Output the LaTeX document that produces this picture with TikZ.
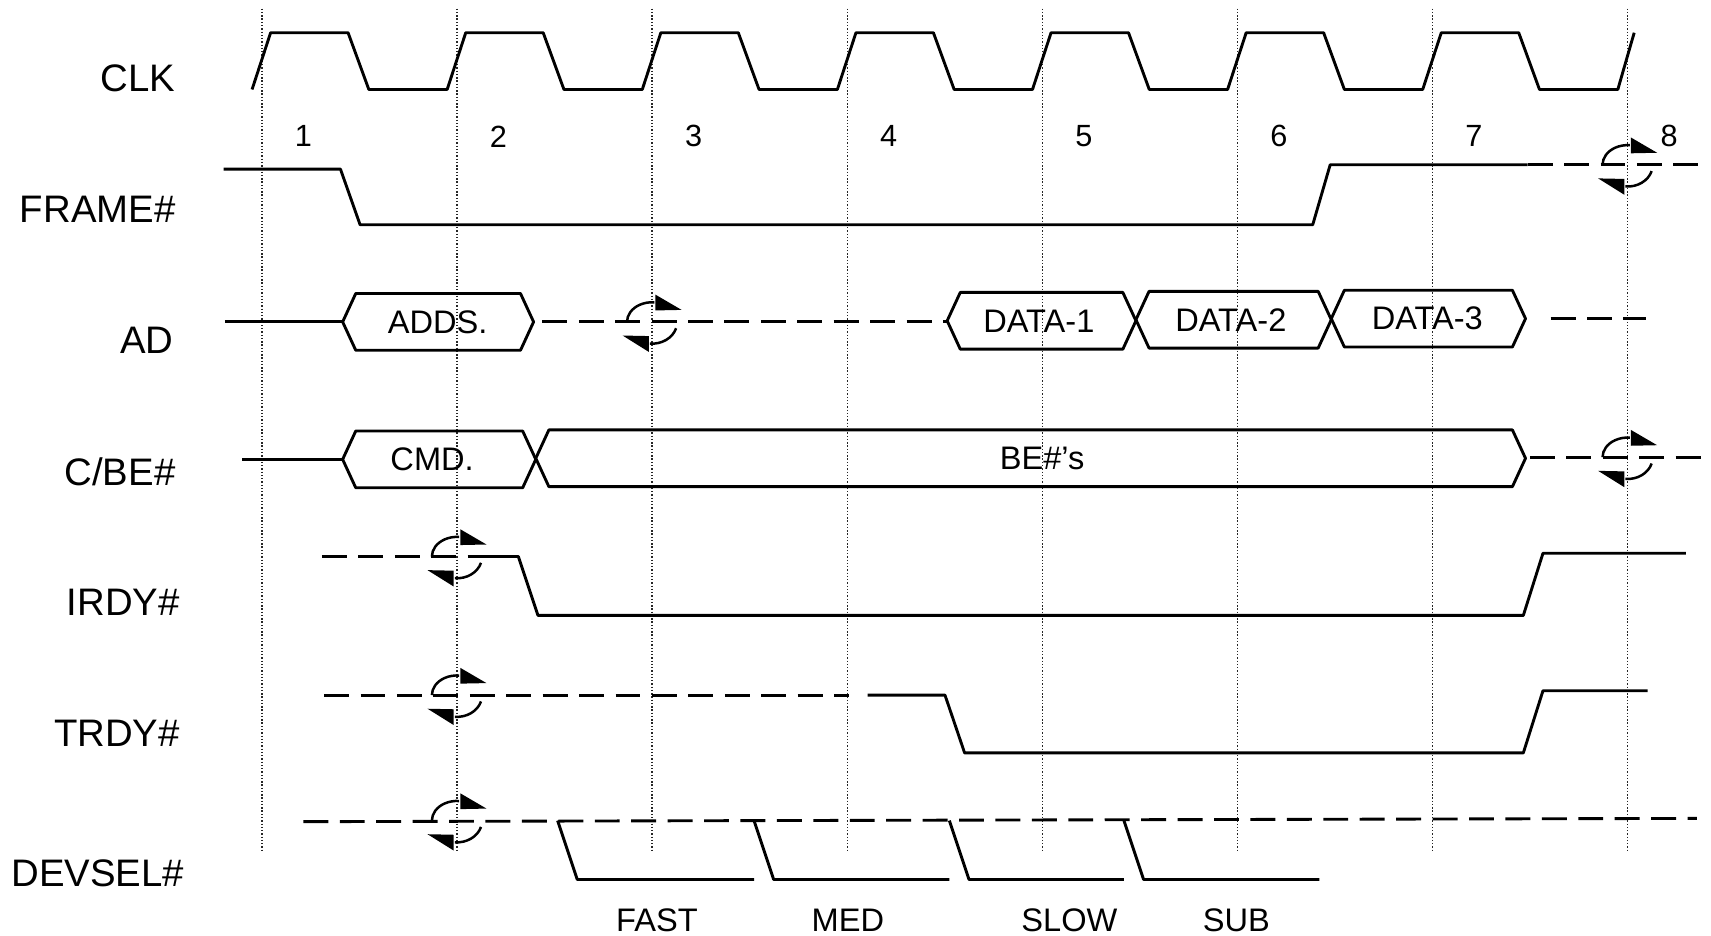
\documentclass[tikz,border=0pt]{standalone}
\usepackage{fontspec}
\setmainfont{Liberation Sans}
\usetikzlibrary{arrows.meta,positioning}
\tikzset{
  sig/.style={line width=1.5pt, line join=round},
  dsig/.style={line width=1.5pt, dash pattern=on 13pt off 6pt},
  grd/.style={densely dotted, line width=0.7pt, black!85},
  lab/.style={anchor=east, font=\fontsize{20}{24}\selectfont},
  cyc/.style={font=\fontsize{16}{18}\selectfont},
  bus/.style={font=\fontsize{17}{20}\selectfont},
  turnaround/.pic={
    \draw[line width=1.3pt] (-23,0) arc[start angle=180,end angle=275,x radius=23,y radius=18];
    \fill (3,-25) -- (3,-10.5) -- (27,-11) -- cycle;
    \draw[line width=1.3pt] (22,5.8) arc[start angle=17,end angle=95,x radius=23,y radius=20];
    \fill (-27,12.5) -- (-3,13) -- (-3,27.5) -- cycle;
  }
}
\begin{document}
\begin{tikzpicture}[x=0.02cm,y=-0.02cm]
\useasboundingbox (0,0) rectangle (1568,857);
\foreach \k in {1,...,8}{\draw[grd] ({240+(\k-1)*178.8},8) -- ({240+(\k-1)*178.8},780);
  \node[cyc] (c\k) at ({278+(\k-1)*178.8},125) {\k};}
\foreach \y/\x/\name/\txt in {72/167/clk/CLK,192/167/frame/FRAME\#,312/165/ad/AD,432/167/cbe/{C/BE\#},552/171/irdy/IRDY\#,672/171/trdy/TRDY\#,800/175/devsel/DEVSEL\#}
  \node[lab] (\name) at (\x,\y) {\txt};
\draw[sig] (231,82) \foreach \k in {1,...,7}{-- ++(17,-52) -- ++(71,0) -- ++(19,52) -- ++(71.8,0)} -- ++(15,-52);
\draw[sig] (205,155) -- (312,155) -- (330,206) -- (1203,206) -- (1219,151) -- (1400,151);
\draw[dsig] (1400,151) -- (1560,151);
\pic at (1491.6,151) {turnaround};
\draw[sig] (206,295) -- (314,295);
\draw[sig] (222,421) -- (314,421);
\foreach \a/\b/\y/\tx/\name/\txt in {314/489/295/401/adds/ADDS.,868/1041/294/952/data1/DATA-1,1041/1220/293/1128/data2/DATA-2,1220/1398/292/1308/data3/DATA-3,314/491/421/396/cmd/CMD.,491/1398/420/955/bes/BE\#'s}{
  \draw[sig] (\a,\y) -- ++(12,-26) -- ++({\b-\a-24},0) -- ++(12,26) -- ++(-12,26) -- ++({\a-\b+24},0) -- cycle;
  \node[bus] (\name) at (\tx,\y) {\txt};}
\draw[dsig] (497,295) -- (868,295);
\draw[dsig] (1421,292) -- (1508,292);
\pic at (597.6,295) {turnaround};
\draw[dsig] (1402,419) -- (1562,419);
\pic at (1491.6,419) {turnaround};
\draw[dsig] (295,510) -- (438,510);
\draw[sig] (438,510) -- (475,510) -- (493,564) -- (1396,564) -- (1414,507) -- (1545,507);
\pic at (418.8,510) {turnaround};
\draw[dsig] (297,637) -- (778,637);
\draw[sig] (795,637) -- (866,637) -- (884,690) -- (1396,690) -- (1414,633) -- (1510,633);
\pic at (418.8,637) {turnaround};
\draw[dsig] (278,753) -- (1555,750);
\pic at (418.8,752) {turnaround};
\foreach \a/\b/\name/\txt/\tx in {511/691/fast/FAST/602,691/870/med/MED/777,870/1030/slow/SLOW/980,1030/1209/sub/SUB/1133}{
  \draw[sig] (\a,752) -- ++(18,54) -- (\b,806);
  \node[bus] (\name) at (\tx,843) {\txt};}
\end{tikzpicture}
\end{document}
